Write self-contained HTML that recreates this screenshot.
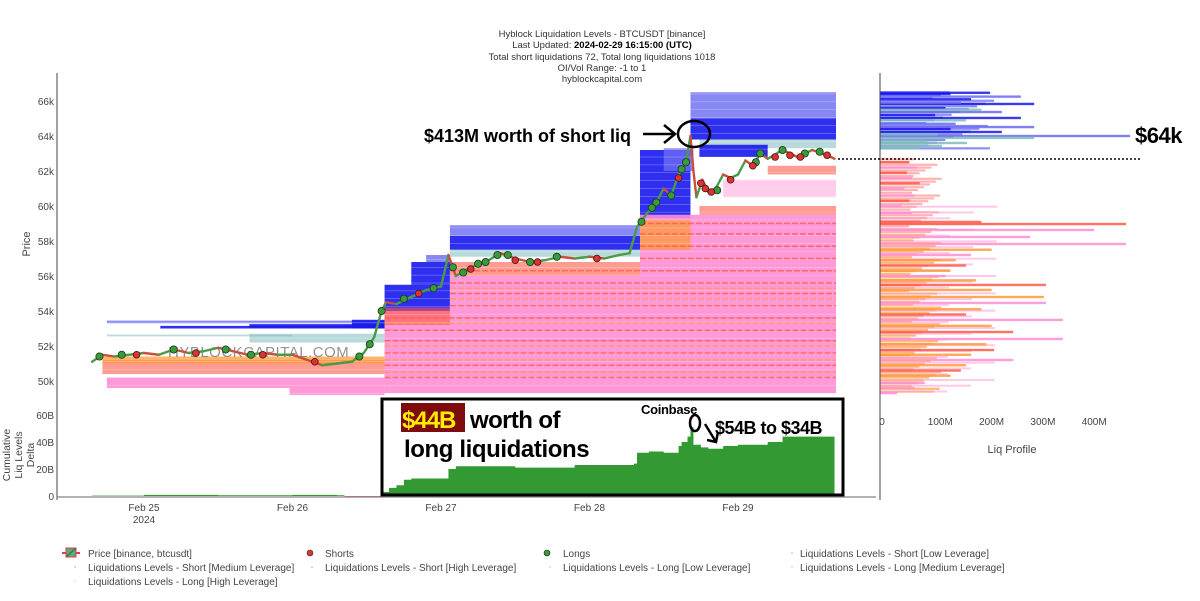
<!DOCTYPE html>
<html><head><meta charset="utf-8">
<style>
html,body{margin:0;padding:0;background:#fff;}
svg{display:block;font-family:"Liberation Sans",sans-serif;}
.t{font-size:10px;fill:#444;}
.ann{font-family:"Liberation Sans",sans-serif;font-weight:bold;fill:#000;}
</style></head>
<body>
<svg id="chart" width="1200" height="601" viewBox="0 0 1200 601" xmlns="http://www.w3.org/2000/svg">
  <g text-anchor="middle" font-size="9.5" fill="#333">
    <text x="602" y="37">Hyblock Liquidation Levels - BTCUSDT [binance]</text>
    <text x="602" y="48">Last Updated: <tspan font-weight="bold" fill="#000">2024-02-29 16:15:00 (UTC)</tspan></text>
    <text x="602" y="60">Total short liquidations 72, Total long liquidations 1018</text>
    <text x="602" y="71">OI/Vol Range: -1 to 1</text>
    <text x="602" y="82">hyblockcapital.com</text>
  </g>
  <g id="bands"></g>
  <g id="levels"></g>
  <text x="168" y="357" font-size="15" fill="#777" opacity="0.8" letter-spacing="0.5">HYBLOCKCAPITAL.COM</text>
  <g id="price"></g>
  <g id="dots"></g>
  <g id="delta"></g>
  <g id="profile"></g>
  <g id="axes"></g>

  <g>
    <text class="ann" x="424" y="142" font-size="18" letter-spacing="0">$413M worth of short liq</text>
    <line x1="643" y1="134" x2="673" y2="134" stroke="#000" stroke-width="2.5"/>
    <polyline points="664,125 675,134 664,143" fill="none" stroke="#000" stroke-width="2.5"/>
    <ellipse cx="694" cy="134" rx="16" ry="13" fill="none" stroke="#000" stroke-width="2.5"/>
    <rect x="382" y="399" width="461" height="96" fill="none" stroke="#000" stroke-width="3"/>
    <rect x="401" y="403" width="64" height="29" fill="#7d0b0b"/>
    <text class="ann" x="402" y="428" font-size="24" style="fill:#ffee00" letter-spacing="-1">$44B</text>
    <text class="ann" x="470" y="428" font-size="24" letter-spacing="-0.6">worth of</text>
    <text class="ann" x="404" y="457" font-size="24" letter-spacing="-0.4">long liquidations</text>
    <text class="ann" x="641" y="414" font-size="13" letter-spacing="-0.3">Coinbase</text>
    <ellipse cx="695" cy="423" rx="5" ry="8" fill="none" stroke="#000" stroke-width="2.5"/>
    <text class="ann" x="715" y="434" font-size="18" letter-spacing="-0.5">$54B to $34B</text>
    <line x1="705" y1="424" x2="716" y2="442" stroke="#000" stroke-width="2.5"/>
    <polyline points="707,440 716,442 718,432" fill="none" stroke="#000" stroke-width="2.5"/>
    <line x1="838" y1="159" x2="1142" y2="159" stroke="#000" stroke-width="1.5" stroke-dasharray="2,2"/>
    <text class="ann" x="1135" y="143" font-size="22" letter-spacing="-0.5">$64k</text>
  </g>

  <g class="t">
    <g>
      <line x1="62" y1="553" x2="80" y2="553" stroke="#e04040" stroke-width="2"/>
      <rect x="66" y="548" width="10" height="9" fill="#5aaa7a" stroke="#e04040"/>
      <line x1="66" y1="557" x2="76" y2="548" stroke="#2a6a4a"/>
      <text x="88" y="557" class="t">Price [binance, btcusdt]</text>
    </g>
    <g>
      <circle cx="310" cy="553" r="3" fill="#e03030" stroke="#333" stroke-width="0.6"/>
      <text x="325" y="557" class="t">Shorts</text>
    </g>
    <g>
      <circle cx="547" cy="553" r="3" fill="#3a9a3a" stroke="#222" stroke-width="0.6"/>
      <text x="563" y="557" class="t">Longs</text>
    </g>
    <g>
      <circle cx="792" cy="553" r="1" fill="#bde"/>
      <text x="800" y="557" class="t">Liquidations Levels - Short [Low Leverage]</text>
    </g>
    <g>
      <circle cx="75" cy="567" r="1" fill="#ccd"/>
      <text x="88" y="571" class="t">Liquidations Levels - Short [Medium Leverage]</text>
    </g>
    <g>
      <circle cx="312" cy="567" r="1" fill="#ccd"/>
      <text x="325" y="571" class="t">Liquidations Levels - Short [High Leverage]</text>
    </g>
    <g>
      <circle cx="550" cy="567" r="1" fill="#fcd"/>
      <text x="563" y="571" class="t">Liquidations Levels - Long [Low Leverage]</text>
    </g>
    <g>
      <circle cx="792" cy="567" r="1" fill="#fcd"/>
      <text x="800" y="571" class="t">Liquidations Levels - Long [Medium Leverage]</text>
    </g>
    <g>
      <circle cx="75" cy="581" r="1" fill="#fdc"/>
      <text x="88" y="585" class="t">Liquidations Levels - Long [High Leverage]</text>
    </g>
  </g>
</svg>
<script>
const priceDays = [24.65,24.72,24.8,24.9,25.0,25.1,25.2,25.3,25.4,25.5,25.6,25.7,25.8,25.9,26.0,26.1,26.2,26.3,26.4,26.48,26.55,26.6,26.63,26.7,26.8,26.9,27.0,27.05,27.1,27.2,27.3,27.4,27.5,27.6,27.7,27.8,27.9,28.0,28.1,28.2,28.27,28.32,28.38,28.45,28.5,28.55,28.6,28.65,28.68,28.7,28.72,28.76,28.8,28.85,28.9,28.95,29.0,29.05,29.1,29.15,29.2,29.3,29.4,29.5,29.6,29.65];
const priceValues = [51.1,51.5,51.4,51.5,51.6,51.5,51.8,51.6,51.7,51.9,51.7,51.5,51.6,51.5,51.5,51.2,50.9,51.0,51.1,51.6,52.5,54.0,54.5,54.4,54.8,55.2,55.4,57.2,56.0,56.5,56.8,57.3,57.0,56.8,56.9,57.1,57.0,57.1,57.0,57.2,57.3,58.8,59.5,60.2,61.0,60.6,61.8,62.5,64.0,62.0,60.5,61.5,60.8,61.0,61.8,61.6,61.8,62.6,62.3,63.0,62.7,63.2,62.8,63.2,62.9,62.7];

const longDays   = [24.7,24.85,25.2,25.55,25.72,26.45,26.52,26.6,26.75,26.95,27.08,27.3,27.45,27.6,27.78,28.35,28.45,28.55,28.65,28.86,29.15,29.3,29.55,27.15,27.25,27.38,28.42,28.62,29.12,29.45];
const longPrices = [51.4,51.5,51.8,51.8,51.5,51.4,52.1,54.0,54.7,55.3,56.5,56.8,57.2,56.8,57.1,59.1,60.2,60.6,62.5,60.9,63.0,63.2,63.1,56.2,56.7,57.2,59.9,62.1,62.5,63.0];
const shortDays   = [24.95,25.35,25.8,26.15,26.85,27.2,27.5,27.65,28.05,28.6,28.75,28.82,28.95,29.1,29.25,29.42,29.6,28.78,29.35];
const shortPrices = [51.5,51.6,51.5,51.1,55.0,56.4,56.9,56.8,57.0,61.6,61.3,60.8,61.5,62.3,62.8,62.8,62.9,61.0,62.9];

const deltaDays   = [24.65,25.0,25.5,26.0,26.3,26.35,26.55,26.6,26.65,26.7,26.75,26.8,27.0,27.05,27.1,27.5,27.9,28.0,28.3,28.32,28.4,28.5,28.6,28.62,28.66,28.68,28.7,28.75,28.8,28.9,29.0,29.2,29.3,29.65];
const deltaValues = [0.3,0.8,0.6,0.8,0.6,-0.7,-0.7,3,6,8,12,13,13,20,22,21,23,23,24,32,33,32,37,40,44,51,38,36,35,37,38,40,44,44];

const bandStart = [24.75,25.11,25.71,24.75,25.71,26.4,26.62,26.8,26.9,27.06,27.06,27.06,28.34,28.34,28.5,28.68,28.68,28.74,28.74,
                   24.75,25.98,24.72,24.72,26.62,26.62,27.06,27.06,28.34,28.34,28.74,28.9,29.2];
const bandEnd   = [26.62,26.62,26.62,26.0,26.62,26.62,27.06,27.06,27.06,28.34,28.34,28.34,28.68,28.68,28.7,29.66,29.66,29.66,29.2,
                   26.62,26.62,26.62,26.62,29.66,27.06,29.66,28.34,29.66,28.68,29.66,29.66,29.66];
const bandLo    = [53.3,53.0,53.05,52.55,52.2,53.0,54.0,55.5,56.8,57.5,58.3,57.1,59.3,61.0,62.0,63.8,65.0,63.3,62.8,
                   49.6,49.2,50.4,51.0,49.3,53.2,54.0,56.0,56.0,57.5,59.5,60.5,61.8];
const bandHi    = [53.45,53.15,53.25,52.65,52.7,53.5,55.5,56.8,57.2,58.3,58.9,57.5,61.0,63.2,63.3,65.0,66.5,63.8,63.5,
                   50.2,49.6,51.2,51.4,54.0,54.2,56.0,56.8,59.5,59.2,60.0,61.5,62.3];
const bandCat   = ["sm","sh","sh","sl","sl","sh","sh","sh","sm","sh","sm","sl","sh","sh","sm","sh","sm","sl","sh",
                   "ll","ll","lh","lm","ll","lh","ll","lh","ll","lm","lh","ll","lh"];

const levelPrice = [50.2,50.9,51.6,52.3,52.9,53.6,54.3,55.0,55.6,56.3,57.0,57.7,58.4,59.0,50.5,51.2,52.0,53.3,54.7,55.3];
const levelStart = [26.62,26.62,26.62,26.62,26.62,26.62,27.06,27.06,27.06,27.06,28.34,28.34,28.34,28.34,26.62,26.62,26.62,26.62,27.06,27.06];
const levelCat   = ["lh","lh","lh","lh","lh","lh","lh","lh","lh","lh","lh","lh","lh","lh","lm","lm","lm","lm","lm","lm"];

const profPrice = [66.47,66.25,65.83,65.37,65.03,64.51,64.23,64.0,63.89,63.6,63.43,66.4,66.1,65.9,65.6,65.5,65.2,64.9,64.7,64.4,64.1,63.7,63.3,
  62.5,62.2,61.9,61.6,61.3,61.0,60.6,60.3,60.0,59.6,59.09,58.97,58.63,58.23,57.83,57.5,57.2,56.9,56.6,56.3,56.0,55.75,55.49,55.2,54.8,54.46,54.1,53.8,53.49,53.15,52.8,52.4,52.1,51.77,51.5,51.2,50.9,50.6,50.3,49.89,49.6,49.31];
const profValue = [197,257,283,220,257,283,220,470,283,152,103,120,160,140,110,180,90,150,130,120,95,75,60,
  40,55,35,45,60,30,50,40,25,45,180,462,400,275,462,200,160,130,150,120,110,170,306,200,302,306,180,150,339,200,242,339,190,205,160,242,150,140,120,70,50,16];
const profCat = ["sh","sm","sh","sm","sh","sm","sh","sm","sl","sl","sl","sh","sh","sm","sh","sl","sh","sl","sm","sh","sl","sl","sl",
  "lh","ll","lh","ll","lh","ll","ll","lh","ll","ll","lh","lh","ll","ll","ll","lm","ll","lm","lh","lm","ll","lm","lh","lm","lm","ll","lm","lh","ll","lm","lh","ll","lm","lh","lm","ll","lm","lh","lm","ll","ll","ll"];

const priceTicks = [50,52,54,56,58,60,62,64,66];
const deltaTicks = [0,20,40,60];
const dayTicks = [25,26,27,28,29];
const dayTickLabels = ["Feb 25","Feb 26","Feb 27","Feb 28","Feb 29"];
const profTicks = [0,100,200,300,400];
const profTickLabels = ["0","100M","200M","300M","400M"];

const NS = "http://www.w3.org/2000/svg";
const xD = d => 144 + (d - 25) * 148.5;
const yP = p => 101 + (66 - p) * 17.5;
const yB = v => 496 - v * 1.35;
const xM = m => 889 + m * 0.513;
const colors = {sh:"#1818ee", sm:"#6a6af2", sl:"#7fbcbc", ll:"#ff8ed4", lm:"#ff9a3a", lh:"#ff5a48"};
const opac = {sh:0.9, sm:0.8, sl:0.55, ll:0.9, lm:0.75, lh:0.6};
function mk(tag, attrs, parent){ const e=document.createElementNS(NS,tag); for(const k in attrs) e.setAttribute(k,attrs[k]); parent.appendChild(e); return e; }

const gB = document.getElementById('bands');
for (let i=0;i<bandStart.length;i++){
  const lightTop = (bandLo[i]===60.5);
  const r = mk('rect',{x:xD(bandStart[i]),y:yP(bandHi[i]),width:xD(bandEnd[i])-xD(bandStart[i]),height:yP(bandLo[i])-yP(bandHi[i]),fill:colors[bandCat[i]],opacity:lightTop?0.45:opac[bandCat[i]]},gB);
  
  
}
for (let p=49.3;p<66.5;p+=0.45){
  const l = mk('line',{x1:xD(24.7),x2:xD(29.66),y1:yP(p),y2:yP(p),stroke:"#fff","stroke-width":0.6,opacity:0.45},gB);
  
  
}
const gL = document.getElementById('levels');
for (let i=0;i<levelPrice.length;i++){
  const l = mk('line',{x1:xD(levelStart[i]),x2:xD(29.66),y1:yP(levelPrice[i]),y2:yP(levelPrice[i]),stroke:colors[levelCat[i]],"stroke-width":1.6,"stroke-dasharray":"6,2",opacity:0.8},gL);
  
  
}
const gP = document.getElementById('price');
for (let i=1;i<priceDays.length;i++){
  const up = priceValues[i] >= priceValues[i-1];
  const l = mk('line',{x1:xD(priceDays[i-1]),y1:yP(priceValues[i-1]),x2:xD(priceDays[i]),y2:yP(priceValues[i]),stroke:up?"#4a9a4a":"#c8503a","stroke-width":2.4,"stroke-linecap":"round"},gP);
  
  
}
const gD = document.getElementById('dots');
for (let i=0;i<longDays.length;i++){
  const c = mk('circle',{cx:xD(longDays[i]),cy:yP(longPrices[i]),r:3.6,fill:"#3a9a3a",stroke:"#1a3a1a","stroke-width":0.8},gD);
  
  
}
for (let i=0;i<shortDays.length;i++){
  const c = mk('circle',{cx:xD(shortDays[i]),cy:yP(shortPrices[i]),r:3.4,fill:"#e03030",stroke:"#3a1a1a","stroke-width":0.8},gD);
  
  
}
const gA = document.getElementById('delta');
let pos = "M"+xD(deltaDays[0])+","+yB(0), neg = pos;
for (let i=0;i<deltaDays.length;i++){
  const x = xD(deltaDays[i]);
  const yv = yB(Math.max(deltaValues[i],0)), yn = yB(Math.min(deltaValues[i],0));
  if (i>0){ pos += " L"+x+","+yB(Math.max(deltaValues[i-1],0)); neg += " L"+x+","+yB(Math.min(deltaValues[i-1],0)); }
  pos += " L"+x+","+yv; neg += " L"+x+","+yn;
}
const xe = xD(deltaDays[deltaDays.length-1]);
pos += " L"+xe+","+yB(0)+" Z"; neg += " L"+xe+","+yB(0)+" Z";
const ap = mk('path',{d:pos,fill:"#339933"},gA);


const an = mk('path',{d:neg,fill:"#e02020"},gA);



const gR = document.getElementById('profile');
for (let p=49.4;p<62.8;p+=0.16){
  const b = mk('rect',{x:880,y:yP(p)-1,width:28+((p*37)%34),height:2.2,fill:(p<58.5?"#ff8c20":"#ff8080"),opacity:0.6},gR);
  
  
}
for (let p=49.4;p<60;p+=0.33){
  const b = mk('rect',{x:880,y:yP(p)-1,width:60+((p*71)%70),height:2,fill:"#ff9ad5",opacity:0.55},gR);
  
  
}
for (let p=63.3;p<66.5;p+=0.16){
  const b = mk('rect',{x:880,y:yP(p)-1,width:45+((p*53)%70),height:2.2,fill:"#3030e8",opacity:0.55},gR);
  
  
}
for (let i=0;i<profPrice.length;i++){
  const b = mk('rect',{x:880,y:yP(profPrice[i])-1.2,width:Math.max(xM(profValue[i])-880,1),height:2.4,fill:colors[profCat[i]],opacity:0.85},gR);
  
  
}

const gX = document.getElementById('axes');
let e;
e = mk('line',{x1:57,y1:73,x2:57,y2:500,stroke:"#444","stroke-width":1},gX);
 
e = mk('line',{x1:57,y1:497,x2:876,y2:497,stroke:"#999","stroke-width":1.5},gX);
 
e = mk('line',{x1:880,y1:73,x2:880,y2:500,stroke:"#444","stroke-width":1},gX);
 
priceTicks.forEach(p=>{
  const t = mk('text',{x:54,y:yP(p)+4,"text-anchor":"end","font-size":10,fill:"#444"},gX); t.textContent = p+"k";
   
});
deltaTicks.forEach(v=>{
  const t = mk('text',{x:54,y:yB(v)+4,"text-anchor":"end","font-size":10,fill:"#444"},gX); t.textContent = v===0?"0":v+"B";
   
});
dayTicks.forEach((d,i)=>{
  const t = mk('text',{x:xD(d),y:511,"text-anchor":"middle","font-size":10,fill:"#444"},gX); t.textContent = dayTickLabels[i];
   
});
e = mk('text',{x:xD(25),y:523,"text-anchor":"middle","font-size":10,fill:"#444"},gX); e.textContent="2024";
 
profTicks.forEach((m,i)=>{
  const t = mk('text',{x:(m===0?882:xM(m)),y:425,"text-anchor":"middle","font-size":10,fill:"#444"},gX); t.textContent = profTickLabels[i];
   
});
e = mk('text',{x:1012,y:453,"text-anchor":"middle","font-size":11,fill:"#444"},gX); e.textContent="Liq Profile";
 
e = mk('text',{x:0,y:0,transform:"translate(30,244) rotate(-90)","text-anchor":"middle","font-size":11,fill:"#444"},gX); e.textContent="Price";
 
["Cumulative","Liq Levels","Delta"].forEach((s,i)=>{
  const t = mk('text',{x:0,y:0,transform:"translate("+(10+i*12)+",455) rotate(-90)","text-anchor":"middle","font-size":10.5,fill:"#444"},gX); t.textContent=s;
   
});
</script>
</body></html>
